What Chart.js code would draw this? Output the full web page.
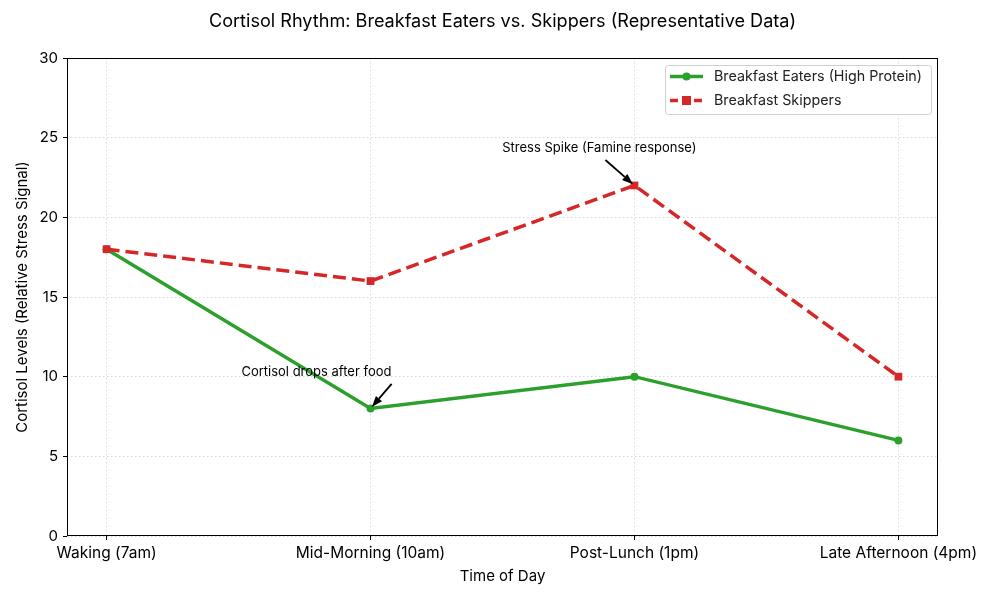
<!DOCTYPE html>
<html lang="en">
<head>
<meta charset="UTF-8">
<title>Cortisol Rhythm</title>
<script src="https://cdn.jsdelivr.net/npm/chart.js"></script>
<style>
  html, body { margin: 0; padding: 0; background: #fff; }
  #wrap { width: 1000px; height: 600px; }
</style>
</head>
<body>
<div id="wrap"><canvas id="cortisolChart"></canvas></div>
<script>
// chart data
const categories = ['Waking (7am)', 'Mid-Morning (10am)', 'Post-Lunch (1pm)', 'Late Afternoon (4pm)'];
const eaters = [18, 8, 10, 6];
const skippers = [18, 16, 22, 10];
const yTicks = [0, 5, 10, 15, 20, 25, 30];
const seriesNames = ['Breakfast Eaters (High Protein)', 'Breakfast Skippers'];
const chartTitle = 'Cortisol Rhythm: Breakfast Eaters vs. Skippers (Representative Data)';

// annotations: text position and arrow tail/head, in data units
const notes = [
    { text: 'Cortisol drops after food', tx: 0.795, ty: 10.3, ax: 1.08, ay: 9.55, px: 1, py: eaters[1] },
    { text: 'Stress Spike (Famine response)', tx: 1.867, ty: 24.35, ax: 1.89, ay: 23.6, px: 2, py: skippers[2] }
];

const GREEN = '#2ca02c';
const RED = '#d62728';
const FONT = 'Inter, "DejaVu Sans", sans-serif';

const toPoints = arr => arr.map((v, i) => ({ x: i, y: v }));

// title, frame, legend and annotations drawn on top
const extras = {
    id: 'extras',
    afterDraw(chart) {
        const c = chart.ctx;
        const a = chart.chartArea;
        const xs = chart.scales.x, ys = chart.scales.y;

        // title centred over the plot
        c.save();
        c.fillStyle = '#000';
        c.font = '18.1px ' + FONT;
        c.textAlign = 'center';
        c.textBaseline = 'middle';
        c.fillText(chartTitle, (a.left + a.right) / 2, 22);
        c.restore();

        // full black frame
        c.save();
        c.strokeStyle = '#000';
        c.lineWidth = 1;
        c.strokeRect(Math.round(a.left) + 0.5, Math.round(a.top) + 0.5,
            Math.round(a.right - a.left) - 1, Math.round(a.bottom - a.top) - 1);
        c.restore();

        // annotations
        c.save();
        c.fillStyle = '#000';
        c.strokeStyle = '#000';
        c.font = '13px ' + FONT;
        c.textAlign = 'center';
        c.textBaseline = 'middle';
        notes.forEach(n => {
            c.fillText(n.text, xs.getPixelForValue(n.tx), ys.getPixelForValue(n.ty));
            const x0 = xs.getPixelForValue(n.ax), y0 = ys.getPixelForValue(n.ay);
            let x1 = xs.getPixelForValue(n.px), y1 = ys.getPixelForValue(n.py);
            const ang = Math.atan2(y1 - y0, x1 - x0);
            x1 -= Math.cos(ang) * 2;
            y1 -= Math.sin(ang) * 2;
            const hl = 11, hw = 4;
            const bx = x1 - Math.cos(ang) * hl, by = y1 - Math.sin(ang) * hl;
            c.lineWidth = 1.8;
            c.beginPath();
            c.moveTo(x0, y0);
            c.lineTo(bx, by);
            c.stroke();
            c.beginPath();
            c.moveTo(x1, y1);
            c.lineTo(bx + Math.sin(ang) * hw, by - Math.cos(ang) * hw);
            c.lineTo(bx - Math.sin(ang) * hw, by + Math.cos(ang) * hw);
            c.closePath();
            c.fill();
        });
        c.restore();

        // legend box, upper right inside the plot
        c.save();
        const lw = 266, lh = 49;
        const lx = a.right - 7 - lw, ly = a.top + 7;
        c.fillStyle = 'rgba(255,255,255,0.85)';
        c.strokeStyle = '#d0d0d0';
        c.lineWidth = 1;
        c.beginPath();
        c.roundRect(lx + 0.5, ly + 0.5, lw, lh, 3);
        c.fill();
        c.stroke();
        const rows = [
            { color: GREEN, dash: [], marker: 'circle' },
            { color: RED, dash: [8, 4], marker: 'square' }
        ];
        c.font = '14.3px ' + FONT;
        c.textAlign = 'left';
        c.textBaseline = 'middle';
        rows.forEach((r, i) => {
            const y = ly + 11.5 + i * 24;
            c.strokeStyle = r.color;
            c.fillStyle = r.color;
            c.lineWidth = 3.5;
            c.setLineDash(r.dash);
            c.beginPath();
            c.moveTo(lx + 5, y);
            c.lineTo(lx + 38, y);
            c.stroke();
            c.setLineDash([]);
            const mx = lx + 21.5;
            if (r.marker === 'circle') {
                c.beginPath();
                c.arc(mx, y, 4, 0, Math.PI * 2);
                c.fill();
            } else {
                c.fillRect(mx - 4.5, y - 4.5, 9, 9);
            }
            c.fillStyle = '#222';
            c.fillText(seriesNames[i], lx + 49, y);
        });
        c.restore();
    }
};

new Chart(document.getElementById('cortisolChart'), {
    type: 'line',
    data: {
        datasets: [
            {
                label: seriesNames[0],
                data: toPoints(eaters),
                borderColor: GREEN,
                backgroundColor: GREEN,
                borderWidth: 3.5,
                pointStyle: 'circle',
                pointRadius: 4,
                pointBorderWidth: 0,
                tension: 0,
                order: 2
            },
            {
                label: seriesNames[1],
                data: toPoints(skippers),
                borderColor: RED,
                backgroundColor: RED,
                borderWidth: 3.5,
                borderDash: [13, 6],
                pointStyle: 'rect',
                pointRadius: 5.5,
                pointBorderWidth: 0,
                tension: 0,
                order: 1
            }
        ]
    },
    options: {
        responsive: true,
        maintainAspectRatio: false,
        animation: false,
        layout: { padding: { top: 58, right: 62, bottom: 0, left: 0 } },
        plugins: {
            legend: { display: false },
            tooltip: { enabled: false },
            title: { display: false }
        },
        scales: {
            x: {
                type: 'linear',
                min: -0.15,
                max: 3.15,
                afterBuildTicks: s => { s.ticks = categories.map((_, i) => ({ value: i })); },
                afterFit: s => { s.height = 64; },
                ticks: {
                    color: '#000',
                    padding: 4,
                    maxRotation: 0,
                    autoSkip: false,
                    font: { family: FONT, size: 15.5 },
                    callback: v => categories[v]
                },
                grid: { color: '#d9d9d9', tickColor: '#000', tickLength: 4, tickBorderDash: [] },
                border: { display: false, dash: [1.5, 2.5] },
                title: {
                    display: true,
                    text: 'Time of Day',
                    color: '#000',
                    font: { family: FONT, size: 15 },
                    padding: { top: 0, bottom: 15 }
                }
            },
            y: {
                min: 0,
                max: 30,
                afterBuildTicks: s => { s.ticks = yTicks.map(v => ({ value: v })); },
                afterFit: s => { s.width = 67; },
                ticks: {
                    color: '#000',
                    padding: 5,
                    font: { family: FONT, size: 15 }
                },
                grid: { color: '#d9d9d9', tickColor: '#000', tickLength: 4, tickBorderDash: [] },
                border: { display: false, dash: [1.5, 2.5] },
                title: {
                    display: true,
                    text: 'Cortisol Levels (Relative Stress Signal)',
                    color: '#000',
                    font: { family: FONT, size: 15 },
                    padding: { top: 13, bottom: 0 }
                }
            }
        }
    },
    plugins: [extras]
});
</script>
</body>
</html>
